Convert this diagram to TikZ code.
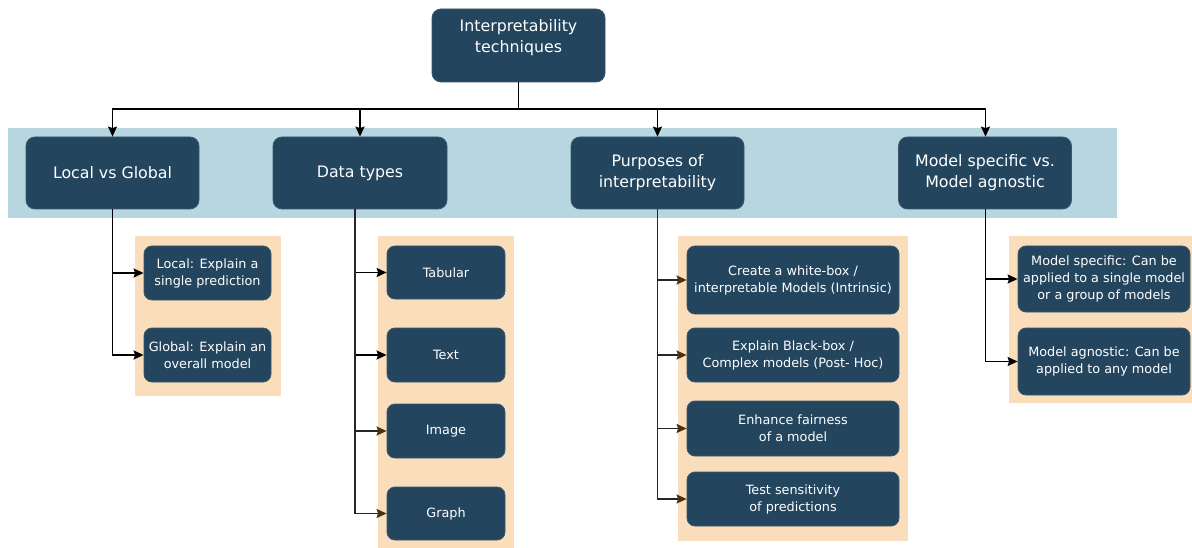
\documentclass[tikz,border=0pt]{standalone}
\usepackage{fontspec}
\setmainfont{DejaVu Sans}
\usetikzlibrary{arrows.meta,calc}
\definecolor{boxfill}{RGB}{35,69,94}
\definecolor{boxline}{RGB}{60,88,110}
\definecolor{band}{RGB}{184,214,224}
\definecolor{panel}{RGB}{250,221,186}
\definecolor{tipbrown}{RGB}{70,50,20}
\tikzset{
  dbox/.style={draw=boxline, line width=0.8pt, fill=boxfill, rounded corners=9pt,
    text=white, align=center, inner sep=0pt, font=\fontsize{15.8}{21}\selectfont},
  leaf/.style={dbox, rounded corners=8pt, font=\fontsize{12.8}{17}\selectfont},
  arr/.style={draw=black, line width=1.6pt, -{Stealth[length=10pt,width=9pt,inset=1.5pt]}},
  arrb/.style={draw=black!85, line width=1.6pt, -{Stealth[length=10pt,width=9pt,inset=1.5pt,color=tipbrown]}},
  bandfill/.style={fill=band, draw=none},
  panelfill/.style={fill=panel, draw=none}
}
\begin{document}
\begin{tikzpicture}[x=1pt,y=-1pt]
\useasboundingbox (0,0) rectangle (1192,548);
% backgrounds
\fill[bandfill] (7.5,128) rectangle (1117,218.5);
\fill[panelfill] (135,236.5) rectangle (281,396);
\fill[panelfill] (378,236) rectangle (514,548);
\fill[panelfill] (678,236) rectangle (908,541);
\fill[panelfill] (1009,236) rectangle (1192,403);
% top
\node[dbox, minimum width=173pt, minimum height=73pt] (top) at (518.5,45.5) {};
\node[text=white, align=center, inner sep=0pt, font=\fontsize{15.8}{21}\selectfont] (toptxt) at (518.5,37.5) {Interpretability\\techniques};
% level 1
\node[dbox, minimum width=173pt, minimum height=72pt] (lg) at (112.5,173) {Local vs Global};
\node[dbox, minimum width=174pt, minimum height=72pt] (dt) at (360,173) {Data types};
\node[dbox, minimum width=173pt, minimum height=72pt] (pu) at (657.5,173) {Purposes of\\interpretability};
\node[dbox, minimum width=173pt, minimum height=72pt] (ms) at (985,173) {Model specific vs.\\Model agnostic};
\coordinate (hub) at (518.5,109);
% leaves panel 1
\node[leaf, minimum width=127pt, minimum height=54pt] (loc) at (207.5,273) {Local: Explain a\\single prediction};
\node[leaf, minimum width=127pt, minimum height=54pt] (glo) at (207.5,355) {Global: Explain an\\overall model};
% panel 2
\node[leaf, minimum width=118pt, minimum height=53pt] (tab) at (446,272.5) {Tabular};
\node[leaf, minimum width=118pt, minimum height=54pt] (txt) at (446,355) {Text};
\node[leaf, minimum width=118pt, minimum height=54pt] (img) at (446,431) {Image};
\node[leaf, minimum width=118pt, minimum height=53pt] (gra) at (446,513.5) {Graph};
% panel 3
\node[leaf, minimum width=212pt, minimum height=68pt] (cre) at (793,280) {Create a white-box /\\interpretable Models (Intrinsic)};
\node[leaf, minimum width=212pt, minimum height=54pt] (exp) at (793,355) {Explain Black-box /\\Complex models (Post- Hoc)};
\node[leaf, minimum width=212pt, minimum height=55pt] (enh) at (793,428.5) {Enhance fairness\\of a model};
\node[leaf, minimum width=212pt, minimum height=54pt] (tes) at (793,499) {Test sensitivity\\of predictions};
% panel 4
\node[leaf, minimum width=172pt, minimum height=66pt] (msl) at (1104,279) {Model specific: Can be\\applied to a single model\\or a group of models};
\node[leaf, minimum width=172pt, minimum height=67pt] (mal) at (1104,361.5) {Model agnostic: Can be\\applied to any model};
% connectors from top
\draw[line width=1.6pt] (top.south) -- (hub);
\draw[arr] (hub) -| (lg.north);
\draw[arr] (hub) -| (dt.north);
\draw[arr] (hub) -| (pu.north);
\draw[arr] (hub) -| ([xshift=0.5pt]ms.north);
% panel 1 connectors
\draw[arr] (lg.south) |- (loc.west);
\draw[arr] (lg.south) |- (glo.west);
% panel 2 connectors
\draw[arr] ([xshift=-5pt]dt.south) |- (tab.west);
\draw[arr] ([xshift=-5pt]dt.south) |- (txt.west);
\draw[arrb] ([xshift=-5pt]dt.south) |- (img.west);
\draw[arrb] ([xshift=-5pt]dt.south) |- (gra.west);
% panel 3 connectors
\draw[arrb] (pu.south) |- (cre.west);
\draw[arrb] (pu.south) |- (exp.west);
\draw[arrb] (pu.south) |- (enh.west);
\draw[arrb] (pu.south) |- (tes.west);
% panel 4 connectors
\draw[arr] ([xshift=0.5pt]ms.south) |- (msl.west);
\draw[arr] ([xshift=0.5pt]ms.south) |- (mal.west);
\end{tikzpicture}
\end{document}
